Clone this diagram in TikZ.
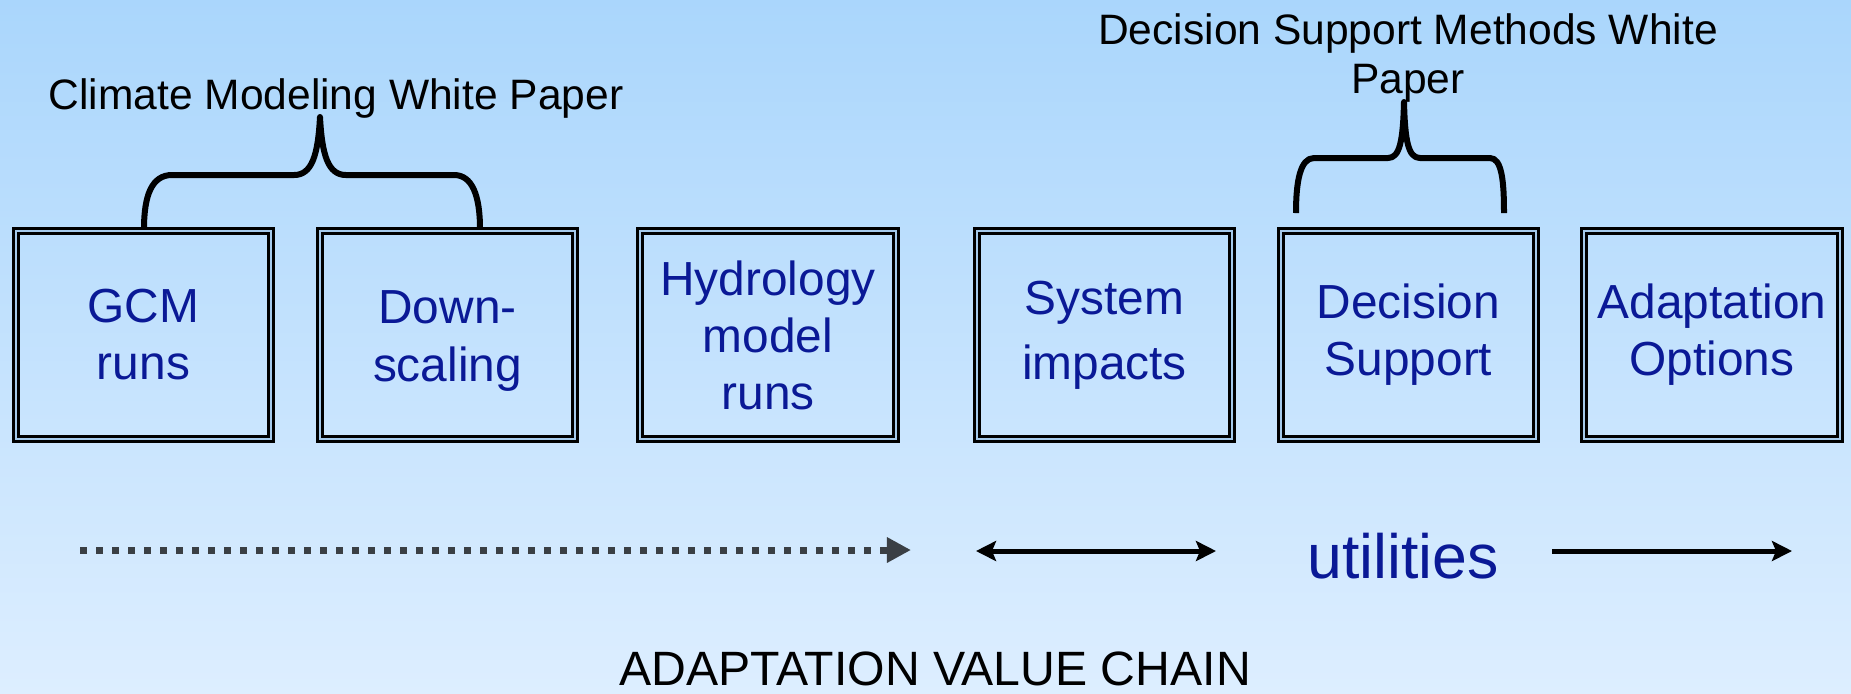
\documentclass[tikz,border=0pt]{standalone}
\usepackage{fontspec}
\setmainfont{Liberation Sans}
\usetikzlibrary{arrows.meta}
\definecolor{bgtop}{RGB}{170,214,252}
\definecolor{bgbottom}{RGB}{221,238,255}
\definecolor{boxtext}{RGB}{10,25,150}
\definecolor{boxgap}{RGB}{165,202,236}
\definecolor{dotgray}{RGB}{58,63,68}
\tikzset{
    chain-box/.style = {draw=black, line width=0.03cm, double=boxgap, double distance=0.02cm, rectangle, minimum width=2.55cm, minimum height=2.08cm, inner sep=0pt, align=center, text=boxtext, font=\fontsize{13.6}{16.2}\selectfont},
    paper-title/.style = {font=\fontsize{12.1}{14.2}\selectfont, inner sep=0pt, align=center},
    paper-brace/.style = {line width=0.06cm, line join=round},
    chain-arrow/.style = {line width=0.05cm, >={Stealth[length=0.2cm, width=0.2cm, inset=0.04cm]}},
}

\begin{document}
\begin{tikzpicture}[x=0.01cm, y=-0.01cm]
\useasboundingbox (0,0) rectangle (1851,693);
\shade[top color=bgtop, bottom color=bgbottom] (0,0) rectangle (1851,693);

\node [chain-box] (gcm) at (143.5,335) {GCM\\runs};
\node [chain-box, font=\fontsize{13.6}{16.6}\selectfont] (down) at (447.5,335) {\\[-4pt]Down-\\scaling};
\node [chain-box] (hydro) at (768,335) {Hydrology\\model\\runs};
\node [chain-box, font=\fontsize{13.6}{18.5}\selectfont] (impacts) at (1104.5,335) {System\\impacts};
\node [chain-box] (decision) at (1408.5,335) {Decision\\Support};
\node [chain-box] (options) at (1712,335) {Adaptation\\Options};

\node [paper-title, anchor=base] (climate-title) at (336,109) {Climate Modeling White Paper};
\node [paper-title] (decision-title) at (1408,58) {Decision Support Methods White\\Paper};

\coordinate (climate-left) at (144,229);
\coordinate (climate-right) at (480,229);
\draw [paper-brace] (climate-left) .. controls (144,195) and (152,175) .. (172,175) -- (294,175)
    .. controls (312,175) and (318,155) .. (320,117) .. controls (322,155) and (328,175) .. (346,175)
    -- (454,175) .. controls (472,175) and (480,195) .. (climate-right);
\coordinate (decision-left) at (1296,213);
\coordinate (decision-right) at (1504,213);
\draw [paper-brace] (decision-left) .. controls (1296,182) and (1300,158) .. (1314,158) -- (1388,158)
    .. controls (1400,158) and (1403,140) .. (1404,102) .. controls (1405,140) and (1408,158) .. (1420,158)
    -- (1490,158) .. controls (1502,158) and (1504,182) .. (decision-right);

\node [text=boxtext, font=\fontsize{17.8}{20}\selectfont, inner sep=0pt, anchor=base] (utilities) at (1403,578) {utilities};
\node [font=\fontsize{13.7}{15}\selectfont, inner sep=0pt, anchor=base] (chain-label) at (935,685) {ADAPTATION VALUE CHAIN};

\coordinate (dots-start) at (80,550);
\coordinate (dots-end) at (911,550);
\draw [dotgray, line width=0.07cm, dash pattern=on 0.07cm off 0.09cm, -{Triangle[length=0.24cm, width=0.24cm]}] (dots-start) -- (dots-end);
\coordinate (impacts-start) at (976,551);
\coordinate (impacts-end) at (1216,551);
\draw [chain-arrow, <->] (impacts-start) -- (impacts-end);
\coordinate (options-start) at (1552,551);
\coordinate (options-end) at (1792,551);
\draw [chain-arrow, ->] (options-start) -- (options-end);
\end{tikzpicture}
\end{document}
